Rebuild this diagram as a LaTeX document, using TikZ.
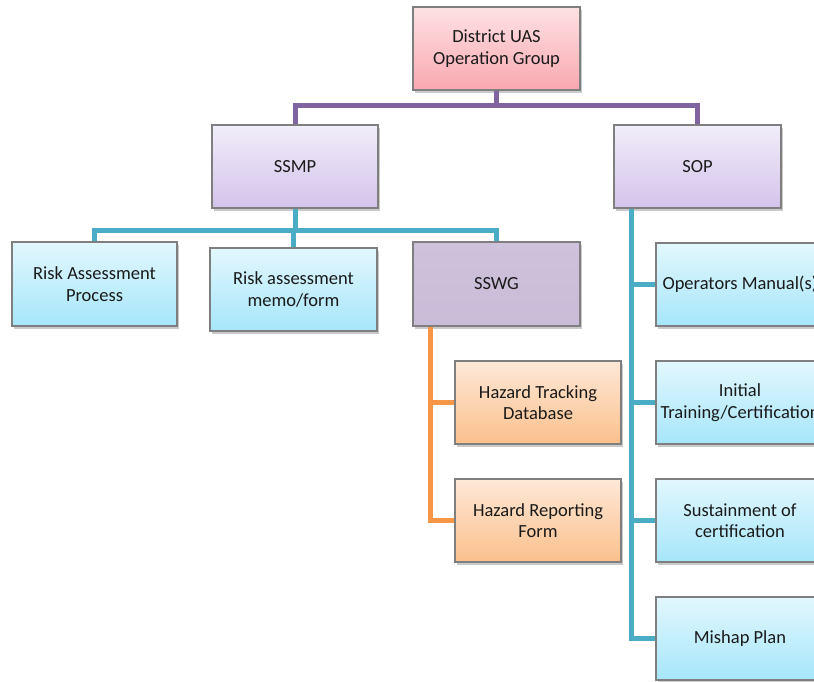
\documentclass[tikz,border=0pt]{standalone}
\usepackage{fontspec}
\setmainfont{Carlito}
\usetikzlibrary{shadows}
\definecolor{bordergray}{HTML}{7F7F7F}
\definecolor{txt}{HTML}{1A1A1A}
\definecolor{purpleline}{HTML}{8064A2}
\definecolor{tealline}{HTML}{4BACC6}
\definecolor{orangeline}{HTML}{F79646}
\tikzset{
  box/.style={draw=bordergray, line width=1.2pt, minimum width=166pt, minimum height=83pt,
    align=center, text=txt, font=\fontsize{18.5}{21.5}\selectfont, inner sep=2pt,
    drop shadow={shadow xshift=2pt, shadow yshift=-2.5pt, opacity=0.35, fill=black!60}},
  pinkbox/.style={box, top color={rgb,255:red,254;green,226;blue,228}, bottom color={rgb,255:red,249;green,168;blue,176}},
  lavbox/.style={box, top color={rgb,255:red,241;green,237;blue,249}, bottom color={rgb,255:red,211;green,195;blue,234}},
  sswgbox/.style={box, top color={rgb,255:red,205;green,193;blue,219}, bottom color={rgb,255:red,200;green,188;blue,216}},
  bluebox/.style={box, top color={rgb,255:red,226;green,247;blue,253}, bottom color={rgb,255:red,166;green,230;blue,250}},
  orbox/.style={box, top color={rgb,255:red,254;green,232;blue,215}, bottom color={rgb,255:red,251;green,192;blue,140}},
  pline/.style={draw=purpleline, line width=5pt},
  tline/.style={draw=tealline, line width=5pt},
  oline/.style={draw=orangeline, line width=5pt},
}
\begin{document}
\begin{tikzpicture}[x=1pt,y=-1pt]
\useasboundingbox (0,0) rectangle (814,681);
\clip (0,0) rectangle (814,681);
\node[pinkbox, minimum width=167pt] (top) at (496.5,48.5) {District UAS\\Operation Group};
\node[lavbox] (ssmp) at (295,166.5) {SSMP};
\node[lavbox, minimum width=167pt] (sop) at (697.5,166.5) {SOP};
\node[bluebox, minimum width=165pt, minimum height=84pt] (rap) at (94.5,284) {Risk Assessment\\Process};
\node[bluebox, minimum width=167pt] (ram) at (293.5,289.5) {Risk assessment\\memo/form};
\node[sswgbox, minimum width=167pt, minimum height=84pt] (sswg) at (496.5,284) {SSWG};
\node[orbox] (htd) at (538,402.5) {Hazard Tracking\\Database};
\node[orbox] (hrf) at (538,520.5) {Hazard Reporting\\Form};
\node[bluebox, minimum width=168pt] (om) at (740,284.5) {Operators Manual(s)};
\node[bluebox, minimum width=168pt] (itc) at (740,402.5) {Initial\\Training/Certification};
\node[bluebox, minimum width=168pt] (soc) at (740,520.5) {Sustainment of\\certification};
\node[bluebox, minimum width=168pt] (mp) at (740,638.5) {Mishap Plan};
% purple
\draw[pline] (top.south) -- ++(0,15) -| (ssmp.north);
\draw[pline] (top.south) -- ++(0,15) -| (sop.north);
% teal from SSMP
\draw[tline] (ssmp.south) -- ++(0,22) -| (rap.north);
\draw[tline] (ssmp.south) -- ++(0,22) -| (ram.north);
\draw[tline] (ssmp.south) -- ++(0,22) -| (sswg.north);
% teal from SOP
\coordinate (sopt) at ([xshift=18pt]sop.south west);
\draw[tline] (sopt) |- (om.west);
\draw[tline] (sopt) |- (itc.west);
\draw[tline] (sopt) |- (soc.west);
\draw[tline] (sopt) |- (mp.west);
% orange
\coordinate (sswgt) at ([xshift=18pt]sswg.south west);
\draw[oline] (sswgt) |- (htd.west);
\draw[oline] (sswgt) |- (hrf.west);
\end{tikzpicture}
\end{document}
